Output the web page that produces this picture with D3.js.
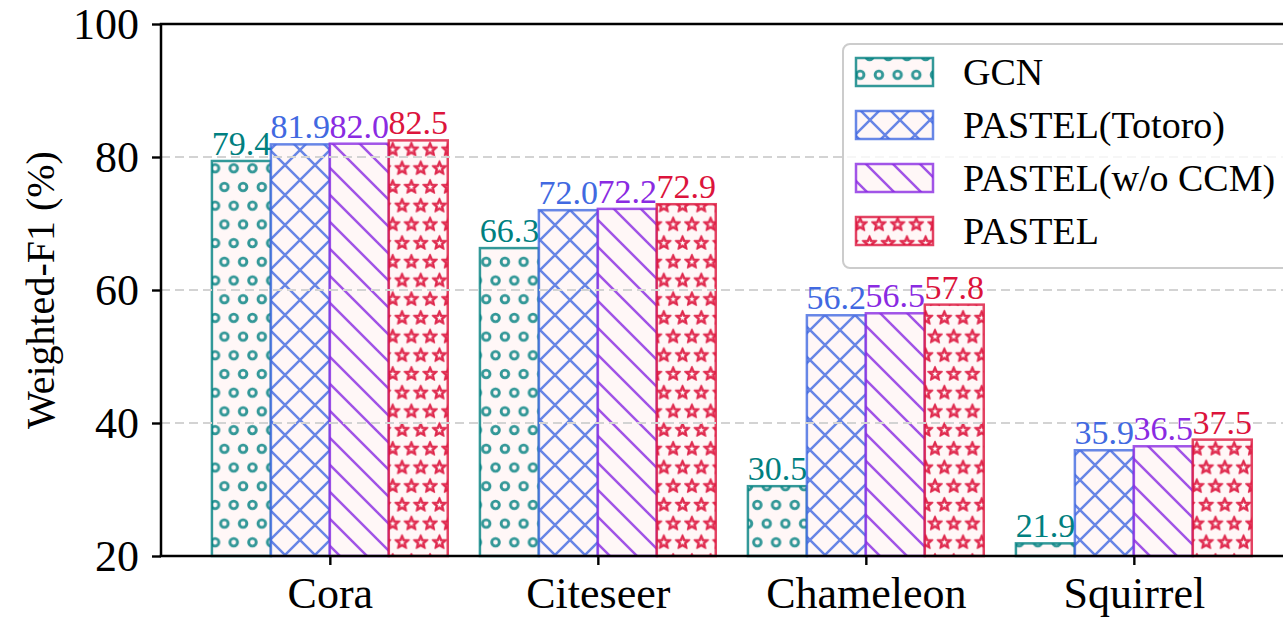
<!DOCTYPE html>
<html>
<head>
<meta charset="utf-8">
<script src="https://cdn.jsdelivr.net/npm/d3@7"></script>
<style>
  html, body { margin: 0; padding: 0; background: #ffffff; }
  svg { display: block; }
  text { font-family: "Liberation Serif", "Times New Roman", "DejaVu Serif", serif; }
</style>
</head>
<body>
<svg id="chart" width="1283" height="617"></svg>
<script>
// Weighted-F1 per dataset for each method
const categories = ["Cora", "Citeseer", "Chameleon", "Squirrel"];
const seriesNames = ["GCN", "PASTEL(Totoro)", "PASTEL(w/o CCM)", "PASTEL"];
const gcnValues = [79.4, 66.3, 30.5, 21.9];
const totoroValues = [81.9, 72.0, 56.2, 35.9];
const woCcmValues = [82.0, 72.2, 56.5, 36.5];
const pastelValues = [82.5, 72.9, 57.8, 37.5];
const yTickValues = [20, 40, 60, 80, 100];
const gridValues = [40, 60, 80];

const seriesValues = [gcnValues, totoroValues, woCcmValues, pastelValues];
const seriesColors = ["#008080", "#4169e1", "#8a2be2", "#dc143c"];
const hatchKinds = ["circles", "cross", "backslash", "stars"];

const svg = d3.select("#chart");
const W = 1283, H = 617;
const plotLeft = 161, plotTop = 24, plotBottom = 556;

const x = d3.scaleLinear().domain([-0.63, 3.63]).range([plotLeft, plotLeft + 4.26 * 268]);
const y = d3.scaleLinear().domain([20, 100]).range([plotBottom, plotTop]);
const barW = 0.22;

// ---- hatch patterns (anchored to the page, like figure-space hatching) ----
const defs = svg.append("defs");
const fade = c => { const k = d3.color(c); k.opacity = 0.8; return k.formatRgb(); };

function starPath(cx, cy, R, r) {
  const pts = [];
  for (let i = 0; i < 10; i++) {
    const a = -Math.PI / 2 + i * Math.PI / 5;
    const rad = i % 2 === 0 ? R : r;
    pts.push([cx + rad * Math.cos(a), cy + rad * Math.sin(a)]);
  }
  return "M" + pts.map(p => p.join(",")).join("L") + "Z";
}

hatchKinds.forEach((kind, i) => {
  const col = fade(seriesColors[i]);
  let p;
  if (kind === "circles" || kind === "stars") {
    const c = 18.7;
    p = defs.append("pattern").attr("id", "hatch-" + i)
      .attr("patternUnits", "userSpaceOnUse")
      .attr("width", c).attr("height", 2 * c);
    const centers = [[0, 0], [c, 0], [0, 2 * c], [c, 2 * c], [c / 2, c]];
    centers.forEach(([cx, cy]) => {
      if (kind === "circles") {
        p.append("circle").attr("cx", cx).attr("cy", cy).attr("r", 3.8)
          .attr("fill", "none").attr("stroke", col).attr("stroke-width", 2.9);
      } else {
        p.append("path").attr("d", starPath(cx, cy, 7.4, 3.4)).attr("fill", col)
          .attr("stroke", col).attr("stroke-width", 1.6).attr("stroke-linejoin", "round");
        p.append("path").attr("d", starPath(cx, cy, 2.6, 1.2)).attr("fill", "#ffffff");
      }
    });
  } else if (kind === "cross") {
    const s = 30;
    p = defs.append("pattern").attr("id", "hatch-" + i)
      .attr("patternUnits", "userSpaceOnUse").attr("width", s).attr("height", s);
    p.append("path")
      .attr("d", `M0,0L${s},${s}M0,${s}L${s},0M${-s/2},${s/2}L${s/2},${3*s/2}M${s/2},${-s/2}L${3*s/2},${s/2}M${-s/2},${s/2}L${s/2},${-s/2}M${s/2},${3*s/2}L${3*s/2},${s/2}`)
      .attr("stroke", col).attr("stroke-width", 2.5).attr("fill", "none");
  } else {
    const s = 27;
    p = defs.append("pattern").attr("id", "hatch-" + i)
      .attr("patternUnits", "userSpaceOnUse").attr("width", s).attr("height", s);
    p.append("path")
      .attr("d", `M0,0L${s},${s}M${-s},0L${s},${2 * s}M0,${-s}L${2 * s},${s}`)
      .attr("stroke", col).attr("stroke-width", 2.5).attr("fill", "none");
  }
});

// ---- bars ----
const barsG = svg.append("g");
const gridG = svg.append("g");
const labelsG = svg.append("g");
seriesValues.forEach((vals, si) => {
  const offset = (si - 1.5) * barW;
  const g = barsG.append("g");
  const bx = d => x(d.i + offset - barW / 2);
  const bw = x(barW) - x(0);
  const data = vals.map((v, i) => ({ v, i }));
  g.selectAll("rect.bg").data(data).join("rect").attr("class", "bg")
    .attr("x", bx).attr("width", bw)
    .attr("y", d => y(d.v)).attr("height", d => y(20) - y(d.v))
    .attr("fill", "#fff5f5").attr("fill-opacity", 0.8);
  g.selectAll("rect.hatch").data(data).join("rect").attr("class", "hatch")
    .attr("x", bx).attr("width", bw)
    .attr("y", d => y(d.v)).attr("height", d => y(20) - y(d.v))
    .attr("fill", `url(#hatch-${si})`);
  g.selectAll("rect.edge").data(data).join("rect").attr("class", "edge")
    .attr("x", bx).attr("width", bw)
    .attr("y", d => y(d.v)).attr("height", d => y(20) - y(d.v))
    .attr("fill", "none").attr("stroke", fade(seriesColors[si])).attr("stroke-width", 2.5);
  labelsG.append("g").selectAll("text").data(data).join("text")
    .attr("x", d => x(d.i + offset)).attr("y", d => y(d.v) - 6)
    .attr("text-anchor", "middle").attr("font-size", 34)
    .attr("fill", seriesColors[si])
    .text(d => d3.format(".1f")(d.v));
});

// ---- grid (drawn over the bars, under the labels) ----
gridG.selectAll("line").data(gridValues).join("line")
  .attr("x1", plotLeft).attr("x2", W)
  .attr("y1", d => y(d)).attr("y2", d => y(d))
  .attr("stroke", "#d3d3d3").attr("stroke-width", 2).attr("stroke-dasharray", "9,5");

// ---- axes ----
const yAxis = d3.axisLeft(y).tickValues(yTickValues).tickSize(9).tickPadding(13).tickSizeOuter(0);
const yg = svg.append("g").attr("transform", `translate(${plotLeft},0)`).call(yAxis);
yg.select(".domain").remove();
yg.selectAll("line").attr("stroke", "#000").attr("stroke-width", 2.4);
yg.selectAll("text").attr("font-size", 44).attr("fill", "#000");

const xAxis = d3.axisBottom(x).tickValues(d3.range(categories.length))
  .tickFormat(i => categories[i]).tickSize(9).tickPadding(12).tickSizeOuter(0);
const xg = svg.append("g").attr("transform", `translate(0,${plotBottom})`).call(xAxis);
xg.select(".domain").remove();
xg.selectAll("line").attr("stroke", "#000").attr("stroke-width", 2.4);
xg.selectAll("text").attr("font-size", 44).attr("fill", "#000");

// spines
const spines = svg.append("g").attr("stroke", "#000").attr("stroke-width", 2.5);
spines.append("line").attr("x1", plotLeft).attr("x2", plotLeft).attr("y1", plotTop).attr("y2", plotBottom);
spines.append("line").attr("x1", plotLeft - 1.25).attr("x2", W).attr("y1", plotBottom).attr("y2", plotBottom);
spines.append("line").attr("x1", plotLeft - 1.25).attr("x2", W).attr("y1", plotTop).attr("y2", plotTop);

// y title
svg.append("text")
  .attr("transform", `translate(54,${(plotTop + plotBottom) / 2}) rotate(-90)`)
  .attr("text-anchor", "middle").attr("font-size", 40).attr("fill", "#000")
  .text("Weighted-F1 (%)");

// ---- legend ----
const lg = svg.append("g");
lg.append("rect").attr("x", 843).attr("y", 44).attr("width", 470).attr("height", 224)
  .attr("rx", 7).attr("fill", "#ffffff").attr("fill-opacity", 0.8)
  .attr("stroke", "#cccccc").attr("stroke-width", 2);
seriesNames.forEach((name, i) => {
  const cy = 72 + i * 53;
  lg.append("rect").attr("x", 856).attr("y", cy - 14).attr("width", 77).attr("height", 28)
    .attr("fill", "#fff5f5").attr("fill-opacity", 0.8);
  lg.append("rect").attr("x", 856).attr("y", cy - 14).attr("width", 77).attr("height", 28)
    .attr("fill", `url(#hatch-${i})`)
    .attr("stroke", fade(seriesColors[i])).attr("stroke-width", 2.5);
  lg.append("text").attr("x", 963).attr("y", cy).attr("dy", "0.35em")
    .attr("font-size", 38).attr("fill", "#000").text(name);
});
</script>
</body>
</html>
